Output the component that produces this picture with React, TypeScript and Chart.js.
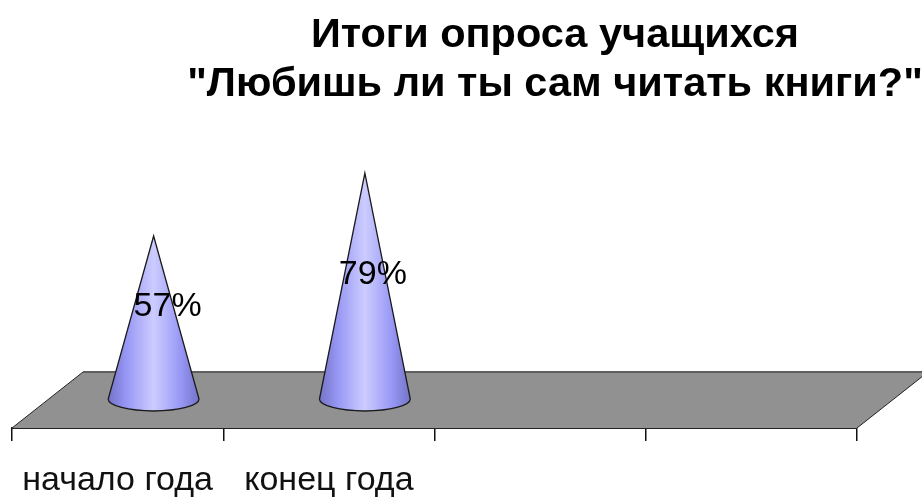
import React, { useEffect, useRef } from "react";
import { Chart, registerables } from "chart.js";

Chart.register(...registerables);

const categories = ["начало года", "конец года", "", ""];
const percentValues = [57, 79, null, null];
const titleLines = ["Итоги опроса учащихся", "\"Любишь ли ты сам читать книги?\""];

const FONT = "'Liberation Sans', Arial, sans-serif";
const DEPTH_X = 36;
const DEPTH_Y = -29;
const labelShiftX = [14, 8];

const floorAndCones = {
  id: "floorAndCones",
  afterLayout(chart: any) {
    if (chart.titleBlock) {
      chart.titleBlock.left = 155;
      chart.titleBlock.right = 955;
    }
  },
  beforeDatasetsDraw(chart: any) {
    const { ctx, chartArea: a } = chart;
    ctx.save();
    ctx.beginPath();
    ctx.moveTo(a.left, a.bottom);
    ctx.lineTo(a.right, a.bottom);
    ctx.lineTo(a.right + 71, a.bottom - 56);
    ctx.lineTo(a.left + 71, a.bottom - 56);
    ctx.closePath();
    ctx.fillStyle = "#919191";
    ctx.fill();
    ctx.lineWidth = 1;
    ctx.strokeStyle = "#222";
    ctx.beginPath();
    ctx.moveTo(a.left, a.bottom);
    ctx.lineTo(a.left + 71, a.bottom - 56);
    ctx.moveTo(a.right, a.bottom);
    ctx.lineTo(a.right + 71, a.bottom - 56);
    ctx.stroke();
    ctx.lineWidth = 2;
    ctx.strokeStyle = "#5f5f5f";
    ctx.beginPath();
    ctx.moveTo(a.left + 71, a.bottom - 56);
    ctx.lineTo(a.right + 71, a.bottom - 56);
    ctx.stroke();
    ctx.restore();
  },
  afterDatasetsDraw(chart: any) {
    const { ctx } = chart;
    const meta = chart.getDatasetMeta(0);
    meta.data.forEach((bar: any, i: number) => {
      const value = percentValues[i];
      if (value == null) return;
      const { x, y, base, width } = bar.getProps(["x", "y", "base", "width"], true);
      const cx = x + DEPTH_X;
      const apex = y + DEPTH_Y;
      const by = base + DEPTH_Y;
      const half = width / 2;
      const g = ctx.createLinearGradient(cx - half, 0, cx + half, 0);
      g.addColorStop(0, "#7373c8");
      g.addColorStop(0.2, "#9797f5");
      g.addColorStop(0.5, "#ccccff");
      g.addColorStop(0.8, "#9797f5");
      g.addColorStop(1, "#7373c8");
      ctx.save();
      ctx.beginPath();
      ctx.moveTo(cx, apex);
      ctx.lineTo(cx + half, by);
      ctx.ellipse(cx, by, half, 12, 0, 0, Math.PI);
      ctx.closePath();
      ctx.fillStyle = g;
      ctx.fill();
      ctx.lineWidth = 1.3;
      ctx.strokeStyle = "#1a1a1a";
      ctx.stroke();
      ctx.restore();
    });
    ctx.save();
    ctx.font = `34px ${FONT}`;
    ctx.fillStyle = "#000";
    ctx.textAlign = "center";
    ctx.textBaseline = "middle";
    meta.data.forEach((bar: any, i: number) => {
      const value = percentValues[i];
      if (value == null) return;
      const { x, y, base } = bar.getProps(["x", "y", "base"], true);
      const midY = (y + base) / 2 + DEPTH_Y;
      ctx.fillText(`${value}%`, x + DEPTH_X + labelShiftX[i], midY - 11);
    });
    ctx.restore();
  },
};

export default function App() {
  const ref = useRef<HTMLCanvasElement>(null);
  useEffect(() => {
    const chart = new Chart(ref.current!, {
      type: "bar",
      data: {
        labels: categories,
        datasets: [
          {
            data: percentValues,
            backgroundColor: "rgba(0,0,0,0)",
            borderWidth: 0,
            barPercentage: 0.43,
            categoryPercentage: 1,
          },
        ],
      },
      plugins: [floorAndCones],
      options: {
        responsive: false,
        animation: false,
        devicePixelRatio: 1,
        layout: { padding: { left: 12, right: 65, top: 0, bottom: 0 } },
        plugins: {
          legend: { display: false },
          tooltip: { enabled: false },
          title: {
            display: true,
            text: titleLines,
            color: "#000",
            font: { family: FONT, size: 41.5, weight: "bold", lineHeight: 49 / 41.5 },
            padding: { top: 11, bottom: 33 },
          },
        },
        scales: {
          y: { display: false, min: 0, max: 100 },
          x: {
            afterFit(scale: any) {
              scale.height = 70;
            },
            grid: { drawOnChartArea: false, drawTicks: true, tickLength: 13, color: "#111", lineWidth: 1.5 },
            border: { display: true, color: "#222", width: 2 },
            ticks: {
              color: "#111",
              font: { family: FONT, size: 34 },
              padding: 19,
              maxRotation: 0,
              autoSkip: false,
            },
          },
        },
      },
    } as any);
    return () => chart.destroy();
  }, []);
  return (
    <canvas
      ref={ref}
      width={922}
      height={498}
      style={{ position: "fixed", left: 0, top: 0, width: 922, height: 498, display: "block" }}
    />
  );
}
